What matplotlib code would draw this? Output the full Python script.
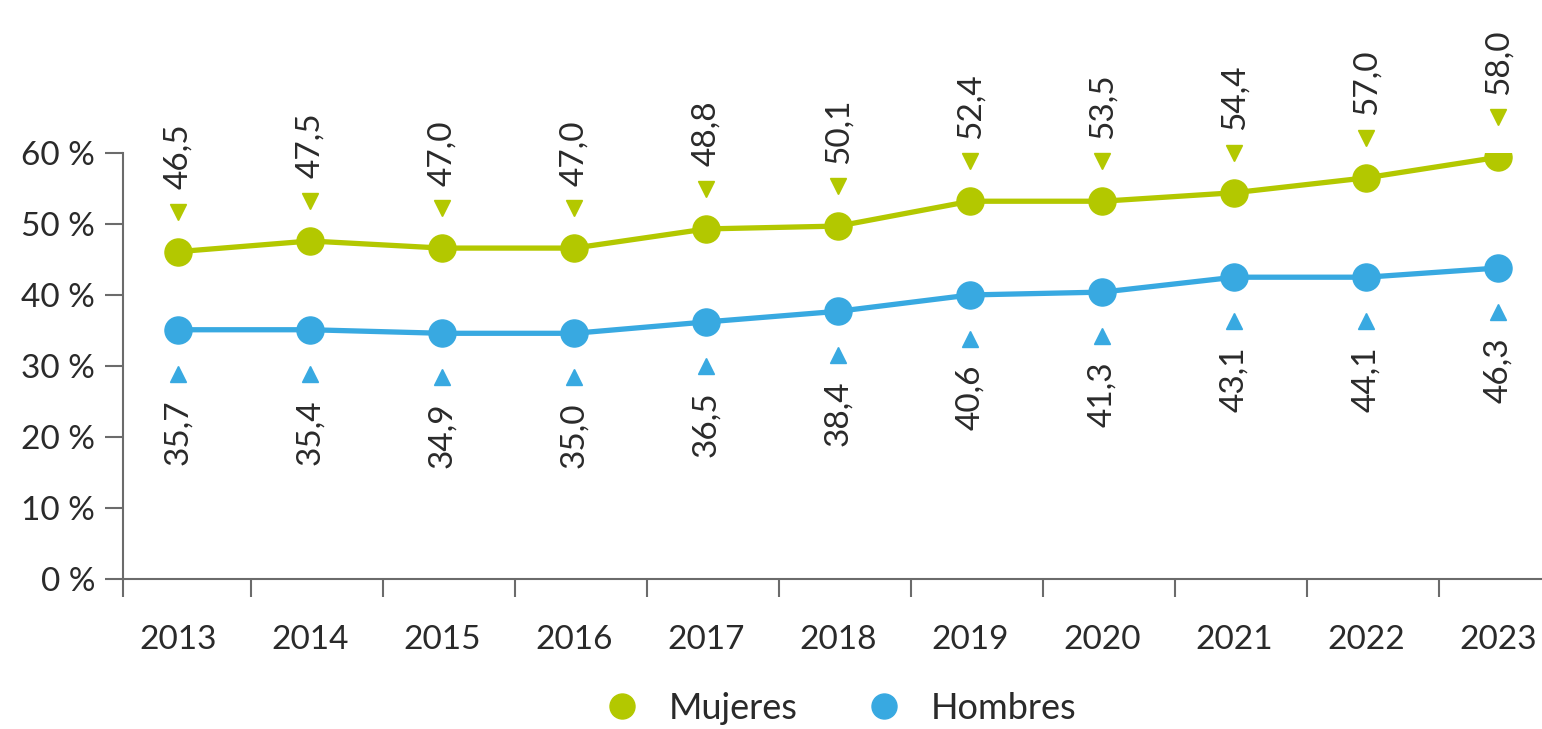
import matplotlib.pyplot as plt
import matplotlib.transforms as mtransforms
from matplotlib.lines import Line2D
import numpy as np

plt.rcParams['font.family'] = ['Lato', 'DejaVu Sans']

anios = ["2013", "2014", "2015", "2016", "2017", "2018", "2019", "2020", "2021", "2022", "2023"]
# posiciones de los puntos tal como aparecen en el gráfico
mujeres = [46.1, 47.6, 46.6, 46.6, 49.3, 49.7, 53.2, 53.2, 54.4, 56.5, 59.4]
hombres = [35.1, 35.1, 34.6, 34.6, 36.2, 37.7, 40.0, 40.4, 42.5, 42.5, 43.8]
# etiquetas escritas en el gráfico
etq_mujeres = ["46,5", "47,5", "47,0", "47,0", "48,8", "50,1", "52,4", "53,5", "54,4", "57,0", "58,0"]
etq_hombres = ["35,7", "35,4", "34,9", "35,0", "36,5", "38,4", "40,6", "41,3", "43,1", "44,1", "46,3"]

verde = "#B3C800"
azul = "#38A9E1"
texto = "#2a2a2a"
gris = "#6b6b6b"

fig = plt.figure(figsize=(15.42, 7.29), dpi=100)
ax = fig.add_axes([0.0798, 0.2058, 0.9202, 0.5844])

x = np.arange(len(anios))
ax.plot(x, mujeres, color=verde, lw=3.8, marker="o", ms=19.5, zorder=3)
ax.plot(x, hombres, color=azul, lw=3.8, marker="o", ms=19.5, zorder=3)

# triángulos desplazados respecto a cada punto
arriba = mtransforms.offset_copy(ax.transData, fig=fig, y=40, units="dots")
abajo = mtransforms.offset_copy(ax.transData, fig=fig, y=-44, units="dots")
ax.plot(x, mujeres, ls="none", marker="v", ms=12, color=verde, transform=arriba, clip_on=False)
ax.plot(x, hombres, ls="none", marker="^", ms=12, color=azul, transform=abajo, clip_on=False)

for i in range(len(anios)):
    ax.annotate(etq_mujeres[i], (x[i], mujeres[i]), xytext=(0, 45), textcoords="offset points",
                rotation=90, ha="center", va="bottom", fontsize=24, color=texto,
                annotation_clip=False)
    ax.annotate(etq_hombres[i], (x[i], hombres[i]), xytext=(0, -50), textcoords="offset points",
                rotation=90, ha="center", va="top", fontsize=24, color=texto,
                annotation_clip=False)

ax.set_ylim(0, 60)
ax.set_xlim(-0.417, 10.33)
ax.set_yticks(range(0, 61, 10))
ax.set_yticklabels([f"{v} %" for v in range(0, 61, 10)], fontsize=24, color=texto)
ax.set_xticks(x)
ax.set_xticklabels(anios, fontsize=24, color=texto)
ax.set_xticks([-0.417] + list(np.arange(10) + 0.55), minor=True)
ax.tick_params(axis="x", which="major", length=0, pad=33)
ax.tick_params(axis="x", which="minor", length=13, width=1.5, color=gris)
ax.tick_params(axis="y", length=13, width=1.5, color=gris, pad=7)

for s in ["top", "right"]:
    ax.spines[s].set_visible(False)
for s in ["left", "bottom"]:
    ax.spines[s].set_color(gris)
    ax.spines[s].set_linewidth(1.5)

handles = [Line2D([], [], ls="none", marker="o", ms=18, color=verde),
           Line2D([], [], ls="none", marker="o", ms=18, color=azul)]
fig.legend(handles, ["Mujeres", "Hombres"], loc="center", bbox_to_anchor=(0.539, 0.028),
           ncol=2, frameon=False, fontsize=26, handletextpad=0.3, columnspacing=1.4,
           labelcolor=texto)

fig.savefig("out.png", dpi=100)
